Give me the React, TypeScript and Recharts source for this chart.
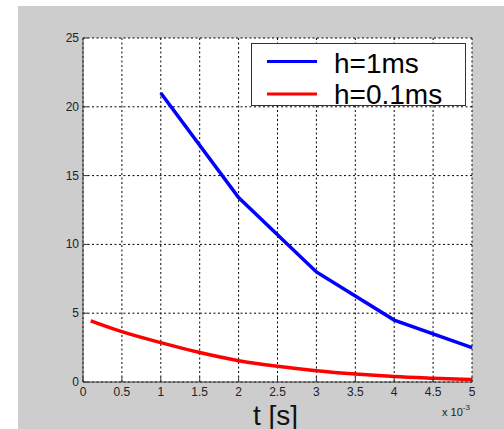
import { LineChart, Line, XAxis, YAxis, CartesianGrid, Legend } from 'recharts';

// time axis is in ms (scaled by 1e-3 on the plot)
const xTicks = [0, 0.5, 1, 1.5, 2, 2.5, 3, 3.5, 4, 4.5, 5];
const yTicks = [0, 5, 10, 15, 20, 25];
const seriesNames = ['h=1ms', 'h=0.1ms'];

const coarseT = [1, 2, 3, 4, 5];
const coarseErr = [21, 13.4, 8, 4.5, 2.5];

const fineT = [0.1, 0.5, 1, 1.5, 2, 2.5, 3, 3.5, 4, 4.5, 5];
const fineErr = [4.45, 3.66, 2.86, 2.14, 1.55, 1.14, 0.82, 0.58, 0.4, 0.28, 0.18];

const coarseData = coarseT.map((t, i) => ({ t, err: coarseErr[i] }));
const fineData = fineT.map((t, i) => ({ t, err: fineErr[i] }));

const FONT = '"Liberation Sans", Arial, Helvetica, sans-serif';
const AXIS = '#3c3c3c';
const TICK = 5;

function BottomTick({ x, y, payload }: any) {
  return (
    <g>
      <line x1={x} x2={x} y1={y} y2={y - TICK} stroke={AXIS} />
      <text x={x} y={y + 14} textAnchor="middle" fontSize={12} fontFamily={FONT} fill="#222">
        {String(payload.value)}
      </text>
    </g>
  );
}

function TopTick({ x, y }: any) {
  return <line x1={x} x2={x} y1={y} y2={y + TICK} stroke={AXIS} />;
}

function LeftTick({ x, y, payload }: any) {
  return (
    <g>
      <line x1={x} x2={x + TICK} y1={y} y2={y} stroke={AXIS} />
      <text x={x - 4} y={y + 4} textAnchor="end" fontSize={12} fontFamily={FONT} fill="#222">
        {String(payload.value)}
      </text>
    </g>
  );
}

function RightTick({ x, y }: any) {
  return <line x1={x} x2={x - TICK} y1={y} y2={y} stroke={AXIS} />;
}

function LegendBox({ payload }: any) {
  const rows = [...(payload || [])].sort(
    (a: any, b: any) => seriesNames.indexOf(a.value) - seriesNames.indexOf(b.value)
  );
  return (
    <svg width={215} height={63} style={{ display: 'block', overflow: 'visible' }}>
      <rect x={0.5} y={0.5} width={214} height={62} fill="#fff" stroke="#333" />
      {rows.map((p: any, i: number) => (
        <g key={p.value}>
          <line x1={16} x2={66} y1={18.5 + i * 32.5} y2={18.5 + i * 32.5} stroke={p.color} strokeWidth={3} />
          <text x={83} y={30 + i * 31} fontSize={28} fontFamily={FONT} fill="#000">
            {p.value}
          </text>
        </g>
      ))}
    </svg>
  );
}

export default function App() {
  return (
    <div style={{ position: 'absolute', left: 0, top: 0, width: 504, height: 429, background: '#fff', overflow: 'hidden' }}>
      <div style={{ position: 'absolute', left: 18, top: 6, right: 0, bottom: 0, background: '#cdcdcd' }} />
      <div style={{ position: 'absolute', left: 0, top: 0 }}>
        <LineChart width={504} height={429} margin={{ top: 38, right: 32, bottom: 0, left: 43 }}>
          <CartesianGrid stroke="#000" strokeDasharray="2 2.5" fill="#fff" fillOpacity={1} />
          <XAxis
            dataKey="t"
            type="number"
            domain={[0, 5]}
            ticks={xTicks}
            interval={0}
            height={47}
            stroke={AXIS}
            tickLine={false}
            tickSize={0}
            tickMargin={0}
            tick={<BottomTick />}
            allowDuplicatedCategory={false}
            label={{ value: 't [s]', position: 'insideBottom', offset: 4, dx: -2, fontSize: 28, fontFamily: FONT, fill: '#111' }}
          />
          <XAxis
            xAxisId="top"
            orientation="top"
            type="number"
            domain={[0, 5]}
            ticks={xTicks}
            interval={0}
            height={0}
            stroke={AXIS}
            tickLine={false}
            tickSize={0}
            tickMargin={0}
            tick={<TopTick />}
          />
          <YAxis
            type="number"
            domain={[0, 25]}
            ticks={yTicks}
            interval={0}
            width={40}
            stroke={AXIS}
            tickLine={false}
            tickSize={0}
            tickMargin={0}
            tick={<LeftTick />}
          />
          <YAxis
            yAxisId="right"
            orientation="right"
            type="number"
            domain={[0, 25]}
            ticks={yTicks}
            interval={0}
            width={0}
            stroke={AXIS}
            tickLine={false}
            tickSize={0}
            tickMargin={0}
            tick={<RightTick />}
          />
          <Legend
            layout="horizontal"
            verticalAlign="middle"
            align="center"
            content={<LegendBox />}
            wrapperStyle={{ left: 251, top: 43, width: 215, height: 63 }}
          />
          <Line
            data={coarseData}
            dataKey="err"
            name={seriesNames[0]}
            type="linear"
            stroke="#0000ff"
            strokeWidth={3.5}
            dot={false}
            isAnimationActive={false}
          />
          <Line
            data={fineData}
            dataKey="err"
            name={seriesNames[1]}
            type="monotone"
            stroke="#ff0000"
            strokeWidth={3.5}
            dot={false}
            isAnimationActive={false}
          />
        </LineChart>
      </div>
      <div style={{ position: 'absolute', left: 442, top: 406, fontFamily: FONT, fontSize: 11, color: '#222', whiteSpace: 'nowrap' }}>
        x 10<sup style={{ fontSize: 8, verticalAlign: 'top', position: 'relative', top: -3 }}>-3</sup>
      </div>
    </div>
  );
}
